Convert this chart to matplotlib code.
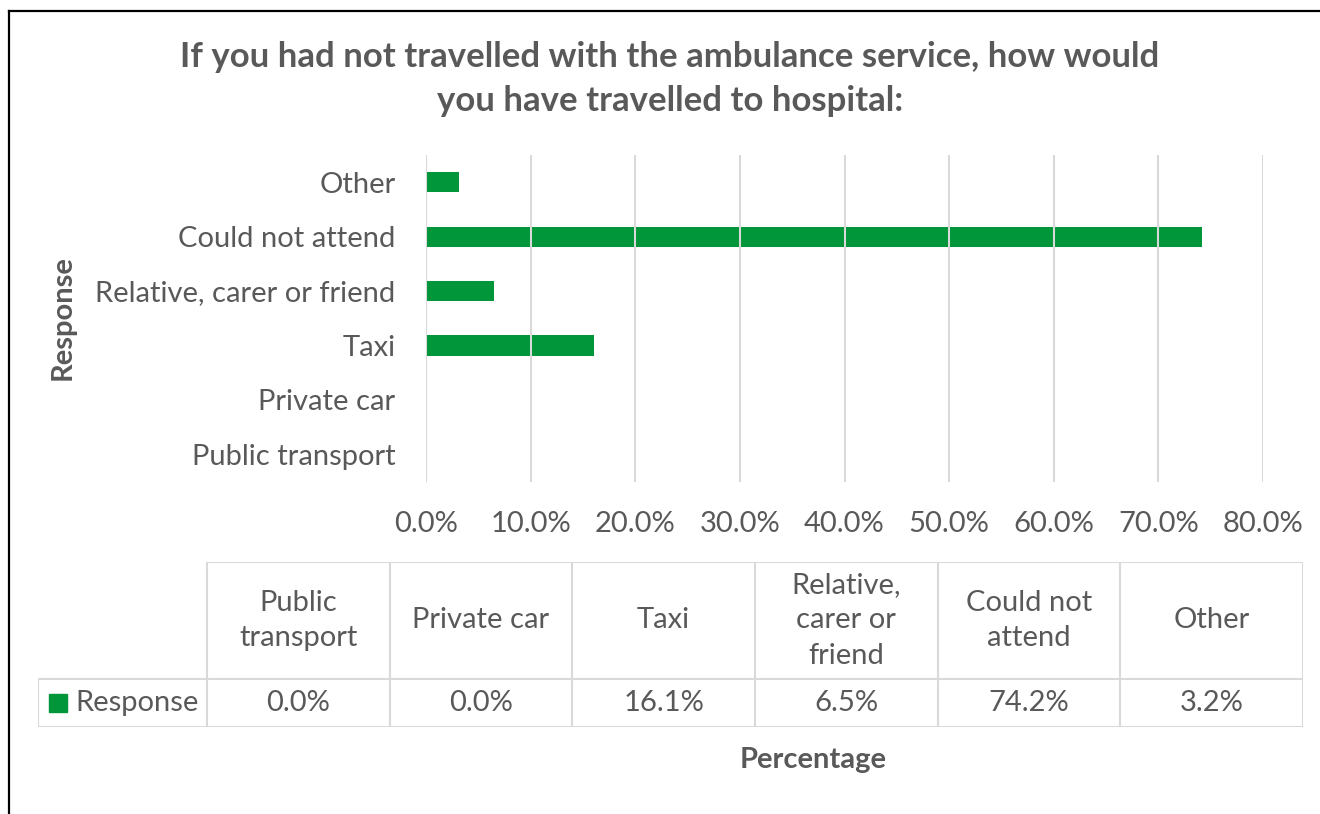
import textwrap

import matplotlib.pyplot as plt
import numpy as np
from matplotlib.lines import Line2D
from matplotlib.patches import Rectangle

# survey answers, in the order the bars go from bottom to top
categories = ["Public transport", "Private car", "Taxi",
              "Relative, carer or friend", "Could not attend", "Other"]
percentages = [0.0, 0.0, 16.1, 6.5, 74.2, 3.2]
x_ticks = [0, 10, 20, 30, 40, 50, 60, 70, 80]
series_name = "Response"

title = ("If you had not travelled with the ambulance service, how would\n"
         "you have travelled to hospital:")

GREEN = "#009639"
TEXT = "#595959"
GRID = "#d9d9d9"
FONT = "Lato"
FS = 21

W, H = 1320, 814


def fx(px):
    return px / W


def fy(py):
    return 1 - py / H


def main():
    plt.rcParams["font.family"] = [FONT, "DejaVu Sans"]

    fig = plt.figure(figsize=(W / 100, H / 100), dpi=100)

    # outer frame (only the top and left edges show)
    fig.add_artist(Line2D([fx(9), fx(9)], [0, fy(11)], color="black", lw=1.6))
    fig.add_artist(Line2D([fx(9), 1], [fy(11), fy(11)], color="black", lw=1.6))

    fig.text(fx(670), fy(79), title, ha="center", va="center", fontsize=25,
             fontweight="bold", color=TEXT, linespacing=1.46)

    # bar chart
    top, bottom, left, right = 155, 481.5, 426, 1263
    ax = fig.add_axes([fx(left), fy(bottom), (right - left) / W, (bottom - top) / H])
    y = np.arange(len(categories))
    ax.barh(y, percentages, height=0.37, color=GREEN, zorder=2)
    ax.set_xlim(0, 80)
    ax.set_ylim(-0.5, len(categories) - 0.5)
    ax.set_xticks(x_ticks)
    ax.set_xticklabels([f"{t:.1f}%" for t in x_ticks])
    ax.set_yticks(y)
    ax.set_yticklabels(categories)
    ax.grid(axis="x", color=GRID, linewidth=1.5)
    ax.set_axisbelow(False)
    ax.tick_params(length=0, labelsize=FS, labelcolor=TEXT)
    ax.tick_params(axis="y", pad=22)
    ax.tick_params(axis="x", pad=21)
    for s in ax.spines.values():
        s.set_visible(False)

    fig.text(fx(63), fy(318), series_name, rotation=90, ha="center", va="center",
             fontsize=FS, fontweight="bold", color=TEXT)
    fig.text(fx(813), fy(760), "Percentage", ha="center", va="center",
             fontsize=FS, fontweight="bold", color=TEXT)

    # data table under the chart
    t_left, lab_right, t_right = 38, 207, 1303
    h_top, h_bottom, t_bottom = 562, 679, 727
    tax = fig.add_axes([fx(t_left), fy(t_bottom), (t_right - t_left) / W,
                        (t_bottom - h_top) / H])
    tax.set_xlim(t_left, t_right)
    tax.set_ylim(t_bottom, h_top)
    tax.axis("off")

    edges = np.linspace(lab_right, t_right, len(categories) + 1)
    line_kw = dict(color=GRID, lw=1.5, solid_capstyle="butt")
    tax.plot([lab_right, t_right], [h_top, h_top], **line_kw)
    tax.plot([t_left, t_right], [h_bottom, h_bottom], **line_kw)
    tax.plot([t_left, t_right], [t_bottom, t_bottom], **line_kw)
    tax.plot([t_left, t_left], [h_bottom, t_bottom], **line_kw)
    for e in edges:
        tax.plot([e, e], [h_top, t_bottom], **line_kw)

    for i, (cat, val) in enumerate(zip(categories, percentages)):
        cx = (edges[i] + edges[i + 1]) / 2
        tax.text(cx, (h_top + h_bottom) / 2, textwrap.fill(cat, 11),
                 ha="center", va="center", fontsize=FS, color=TEXT,
                 linespacing=1.45)
        tax.text(cx, (h_bottom + t_bottom) / 2, f"{val:.1f}%",
                 ha="center", va="center", fontsize=FS, color=TEXT)

    tax.add_patch(Rectangle((49, 694), 18, 18, color=GREEN))
    tax.text(75, (h_bottom + t_bottom) / 2, series_name, ha="left", va="center",
             fontsize=FS, color=TEXT)

    fig.savefig("out.png", dpi=100)


if __name__ == "__main__":
    main()
